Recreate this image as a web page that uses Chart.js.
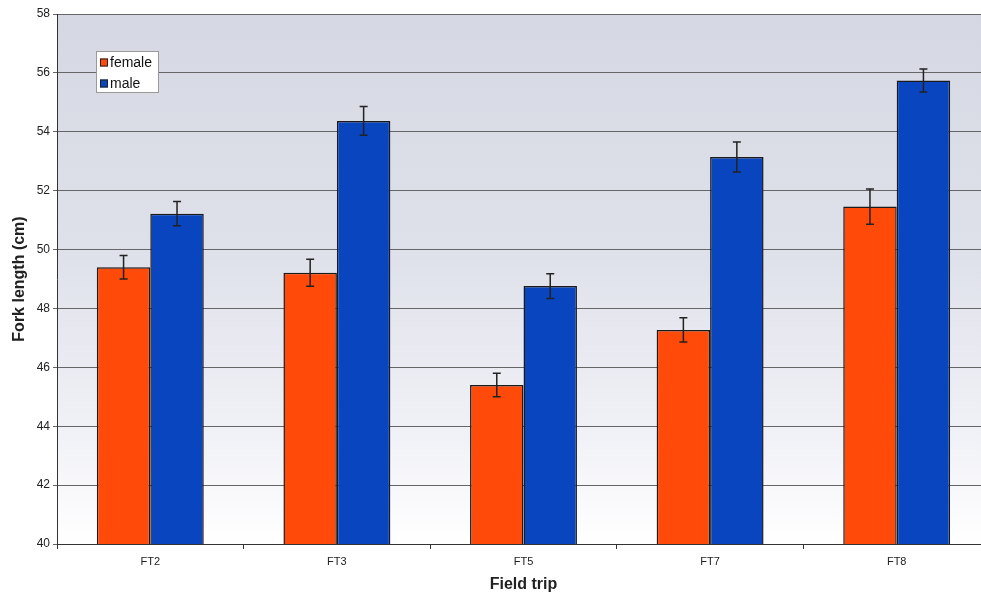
<!DOCTYPE html>
<html>
<head>
<meta charset="utf-8">
<script src="https://cdn.jsdelivr.net/npm/chart.js@4.4.1/dist/chart.umd.min.js"></script>
<style>
  html, body { margin: 0; padding: 0; background: #fff; overflow: hidden; }
  #wrap { width: 990px; height: 598px; position: relative; }
</style>
</head>
<body>
<div id="wrap"><canvas id="chart"></canvas></div>
<script>
// field trips on the x axis
const trips = ["FT2", "FT3", "FT5", "FT7", "FT8"];
// mean fork length (cm)
const femaleMean = [49.40, 49.21, 45.40, 47.27, 51.46];
const maleMean = [51.22, 54.37, 48.76, 53.14, 55.74];
// +/- error
const femaleErr = [0.40, 0.46, 0.40, 0.41, 0.60];
const maleErr = [0.41, 0.49, 0.42, 0.51, 0.39];
const yTicks = [40, 42, 44, 46, 48, 50, 52, 54, 56, 58];

const colors = { female: "#ff4a0a", male: "#0a45c0" };
const font = "'Liberation Sans', Arial, sans-serif";

const plotBackground = {
  id: "plotBackground",
  beforeDraw(chart) {
    const { ctx, chartArea: a } = chart;
    const g = ctx.createLinearGradient(0, a.top, 0, a.bottom);
    g.addColorStop(0, "#d5d7e2");
    g.addColorStop(0.45, "#dfe1ea");
    g.addColorStop(0.8, "#f1f2f7");
    g.addColorStop(1, "#ffffff");
    ctx.save();
    ctx.fillStyle = g;
    ctx.fillRect(a.left, a.top, a.right - a.left, a.bottom - a.top);
    ctx.restore();
  }
};

const errorBars = {
  id: "errorBars",
  afterDatasetsDraw(chart) {
    const { ctx } = chart;
    const y = chart.scales.y;
    ctx.save();
    ctx.strokeStyle = "#222";
    ctx.lineWidth = 1.5;
    chart.data.datasets.forEach((ds, i) => {
      chart.getDatasetMeta(i).data.forEach((bar, j) => {
        const v = ds.data[j], e = ds.err[j];
        const top = y.getPixelForValue(v + e), bot = y.getPixelForValue(v - e);
        ctx.beginPath();
        ctx.moveTo(bar.x, top); ctx.lineTo(bar.x, bot);
        ctx.moveTo(bar.x - 4, top); ctx.lineTo(bar.x + 4, top);
        ctx.moveTo(bar.x - 4, bot); ctx.lineTo(bar.x + 4, bot);
        ctx.stroke();
      });
    });
    ctx.restore();
  }
};

const boxLegend = {
  id: "boxLegend",
  afterDraw(chart) {
    const { ctx, chartArea: a } = chart;
    const x = a.left + 39, y = a.top + 37;
    ctx.save();
    ctx.fillStyle = "#fff";
    ctx.fillRect(x, y, 62, 41);
    ctx.strokeStyle = "#999";
    ctx.lineWidth = 1;
    ctx.strokeRect(x + 0.5, y + 0.5, 62, 41);
    ctx.font = "14px " + font;
    ctx.textBaseline = "middle";
    chart.data.datasets.forEach((ds, i) => {
      const cy = y + 11.5 + i * 21;
      ctx.fillStyle = ds.backgroundColor;
      ctx.fillRect(x + 4, cy - 4, 8, 8);
      ctx.strokeStyle = "#222";
      ctx.strokeRect(x + 4.5, cy - 3.5, 7, 7);
      ctx.fillStyle = "#111";
      ctx.fillText(ds.label, x + 14, cy + 1);
    });
    ctx.restore();
  }
};

new Chart(document.getElementById("chart"), {
  type: "bar",
  data: {
    labels: trips,
    datasets: [
      { label: "female", data: femaleMean, err: femaleErr, backgroundColor: colors.female, borderColor: "#1a1a1a", borderWidth: 1.5 },
      { label: "male", data: maleMean, err: maleErr, backgroundColor: colors.male, borderColor: "#1a1a1a", borderWidth: 1.5 }
    ]
  },
  options: {
    responsive: true,
    maintainAspectRatio: false,
    animation: false,
    categoryPercentage: 0.573,
    barPercentage: 1.0,
    layout: { padding: { top: 14, right: 0, left: 0, bottom: 0 } },
    plugins: { legend: { display: false }, tooltip: { enabled: false } },
    scales: {
      x: {
        afterFit(scale) { scale.height = 54; },
        grid: { display: true, drawOnChartArea: false, offset: true, tickLength: 5, color: "#333" },
        border: { color: "#333", width: 1 },
        ticks: { color: "#222", font: { family: font, size: 11 }, padding: 6 },
        title: { display: true, text: "Field trip", color: "#222", font: { family: font, size: 16, weight: "bold" }, padding: { top: 10 } }
      },
      y: {
        min: 40, max: 58,
        afterFit(scale) { scale.width = 57; },
        afterBuildTicks(scale) { scale.ticks = yTicks.map((v) => ({ value: v })); },
        grid: { color: "#666", lineWidth: 1, tickLength: 4 },
        border: { color: "#333", width: 1 },
        ticks: { color: "#222", font: { family: font, size: 12 }, padding: 3 },
        title: { display: true, text: "Fork length (cm)", color: "#222", font: { family: font, size: 16, weight: "bold" }, padding: { top: 10, bottom: 0 } }
      }
    }
  },
  plugins: [plotBackground, errorBars, boxLegend]
});
</script>
</body>
</html>
